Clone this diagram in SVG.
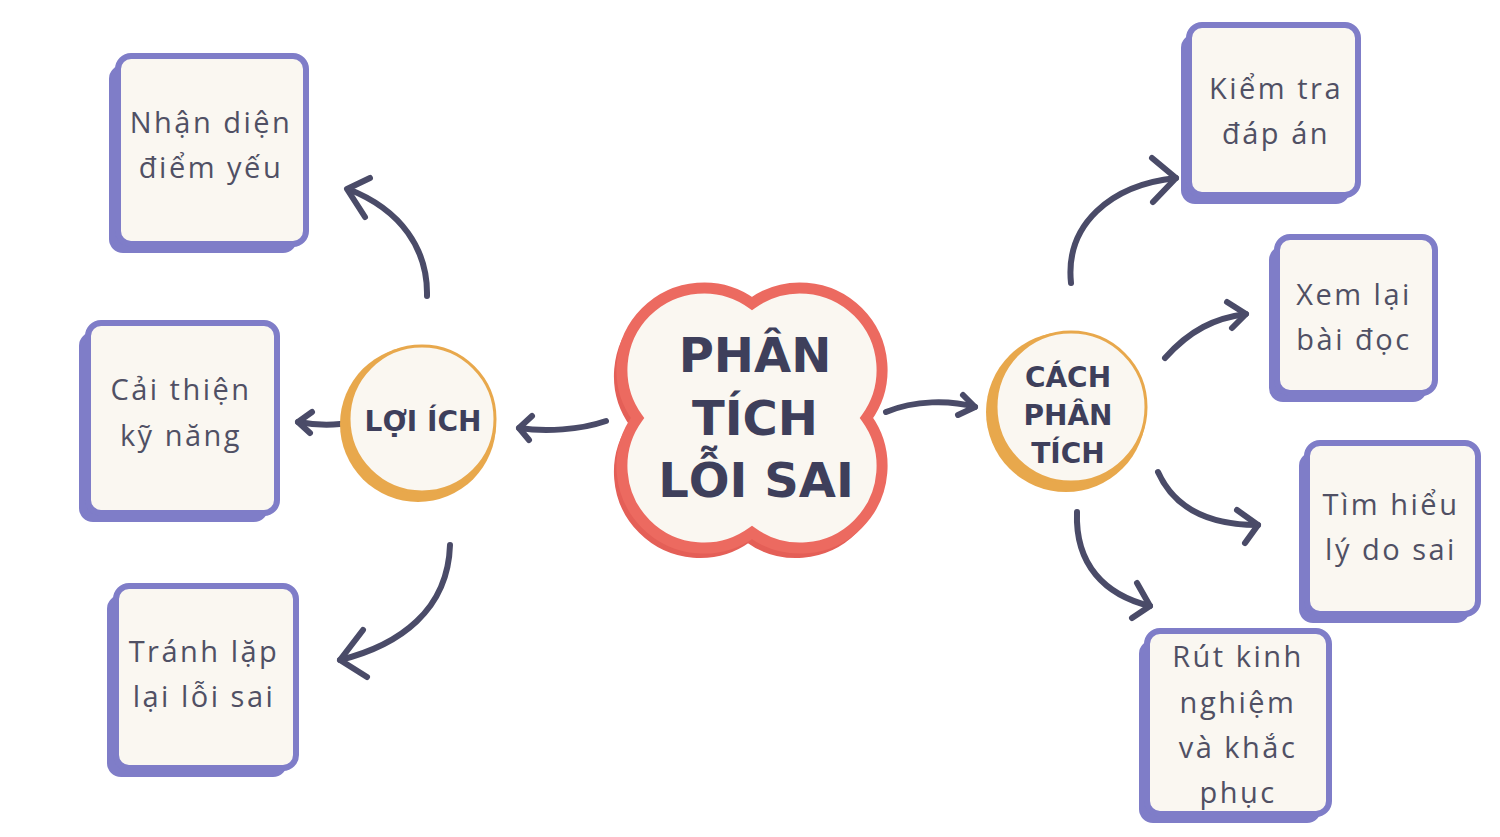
<svg xmlns="http://www.w3.org/2000/svg" width="1500" height="837" viewBox="0 0 1500 837">
  <defs>
    <style>
      .shadow { fill: #7F7DC8; }
      .card { fill: #FAF7F1; stroke: #7F7DC8; stroke-width: 6; }
      .btxt { font-family: "Open Sans", "DejaVu Sans", sans-serif; font-size: 29px; fill: #505064; letter-spacing: 2.5px; text-anchor: middle; }
      .ttl { font-family: "DejaVu Sans", "Liberation Sans", sans-serif; font-weight: bold; fill: #3E3F5B; text-anchor: middle; }
      .conn { fill: none; stroke: #4A4B68; stroke-width: 6; stroke-linecap: round; stroke-linejoin: round; }
    </style>
    <path id="quat" d="M0,-114.5 A82,82 0 0 1 114.5,0 A82,82 0 0 1 0,114.5 A82,82 0 0 1 -114.5,0 A82,82 0 0 1 0,-114.5 Z"/>
  </defs>
  <rect width="1500" height="837" fill="#FFFFFF"/>

  <g id="connectors">
    <path class="conn" d="M427,296 C428,250 402,210 348,189"/>
    <path class="conn" d="M370,178 L347,189 L365,217"/>
    <path class="conn" d="M340,424 Q320,426 298,422"/>
    <path class="conn" d="M312,412 L298,422 L310,433"/>
    <path class="conn" d="M606,421 C580,430 545,432 519,428"/>
    <path class="conn" d="M532,416 L519,428 L529,440"/>
    <path class="conn" d="M450,545 C448,610 400,645 340,660"/>
    <path class="conn" d="M363,630 L340,660 L367,677"/>
    <path class="conn" d="M886,412 C915,400 950,400 975,407"/>
    <path class="conn" d="M963,395 L975,407 L958,415"/>
    <path class="conn" d="M1071,283 C1065,225 1110,185 1176,178"/>
    <path class="conn" d="M1152,158 L1176,178 L1153,202"/>
    <path class="conn" d="M1165,358 C1190,330 1215,318 1246,314"/>
    <path class="conn" d="M1227,302 L1246,314 L1232,328"/>
    <path class="conn" d="M1158,472 C1175,510 1210,525 1258,525"/>
    <path class="conn" d="M1237,510 L1258,525 L1245,543"/>
    <path class="conn" d="M1077,512 C1075,565 1105,595 1150,606"/>
    <path class="conn" d="M1137,583 L1150,606 L1132,618"/>
  </g>

  <g id="center">
    <use href="#quat" transform="translate(748,424)" fill="#E45F57" stroke="#E45F57" stroke-width="8"/>
    <use href="#quat" transform="translate(752,418)" fill="#FAF7F1" stroke="#EC6A60" stroke-width="11"/>
    <text class="ttl" font-size="48" x="755" y="372">PHÂN</text>
    <text class="ttl" font-size="48" x="755" y="435">TÍCH</text>
    <text class="ttl" font-size="48" x="756" y="497">LỖI SAI</text>
  </g>

  <g id="loi-ich">
    <circle cx="418" cy="424" r="78" fill="#E8A84C"/>
    <circle cx="422" cy="419" r="73" fill="#FAF7F1" stroke="#E8A84C" stroke-width="3"/>
    <text class="ttl" font-size="28" x="423" y="431">LỢI ÍCH</text>
  </g>

  <g id="cach-phan-tich">
    <circle cx="1066" cy="412" r="80" fill="#E8A84C"/>
    <circle cx="1071" cy="407" r="75" fill="#FAF7F1" stroke="#E8A84C" stroke-width="3"/>
    <text class="ttl" font-size="28" x="1068" y="387">CÁCH</text>
    <text class="ttl" font-size="28" x="1068" y="425">PHÂN</text>
    <text class="ttl" font-size="28" x="1068" y="463">TÍCH</text>
  </g>

  <g id="nhan-dien">
    <rect class="shadow" x="109" y="65" width="188" height="188" rx="14"/>
    <rect class="card" x="118" y="56" width="188" height="188" rx="13"/>
    <text class="btxt" x="211" y="133">Nhận diện</text>
    <text class="btxt" x="211" y="178">điểm yếu</text>
  </g>

  <g id="cai-thien">
    <rect class="shadow" x="79" y="332" width="189" height="190" rx="14"/>
    <rect class="card" x="88" y="323" width="189" height="190" rx="13"/>
    <text class="btxt" x="181" y="400">Cải thiện</text>
    <text class="btxt" x="181" y="446">kỹ năng</text>
  </g>

  <g id="tranh-lap">
    <rect class="shadow" x="107" y="595" width="180" height="182" rx="14"/>
    <rect class="card" x="116" y="586" width="180" height="182" rx="13"/>
    <text class="btxt" x="204" y="662">Tránh lặp</text>
    <text class="btxt" x="204" y="707">lại lỗi sai</text>
  </g>

  <g id="kiem-tra">
    <rect class="shadow" x="1181" y="34" width="169" height="170" rx="14"/>
    <rect class="card" x="1189" y="25" width="169" height="170" rx="13"/>
    <text class="btxt" x="1276" y="99">Kiểm tra</text>
    <text class="btxt" x="1276" y="144">đáp án</text>
  </g>

  <g id="xem-lai">
    <rect class="shadow" x="1269" y="246" width="158" height="156" rx="14"/>
    <rect class="card" x="1277" y="237" width="158" height="156" rx="13"/>
    <text class="btxt" x="1354" y="305">Xem lại</text>
    <text class="btxt" x="1354" y="350">bài đọc</text>
  </g>

  <g id="tim-hieu">
    <rect class="shadow" x="1299" y="452" width="171" height="171" rx="14"/>
    <rect class="card" x="1307" y="443" width="171" height="171" rx="13"/>
    <text class="btxt" x="1391" y="515">Tìm hiểu</text>
    <text class="btxt" x="1391" y="560">lý do sai</text>
  </g>

  <g id="rut-kinh-nghiem">
    <rect class="shadow" x="1139" y="640" width="182" height="183" rx="14"/>
    <rect class="card" x="1147" y="631" width="182" height="183" rx="13"/>
    <text class="btxt" x="1238" y="667">Rút kinh</text>
    <text class="btxt" x="1238" y="713">nghiệm</text>
    <text class="btxt" x="1238" y="758">và khắc</text>
    <text class="btxt" x="1238" y="803">phục</text>
  </g>
</svg>
